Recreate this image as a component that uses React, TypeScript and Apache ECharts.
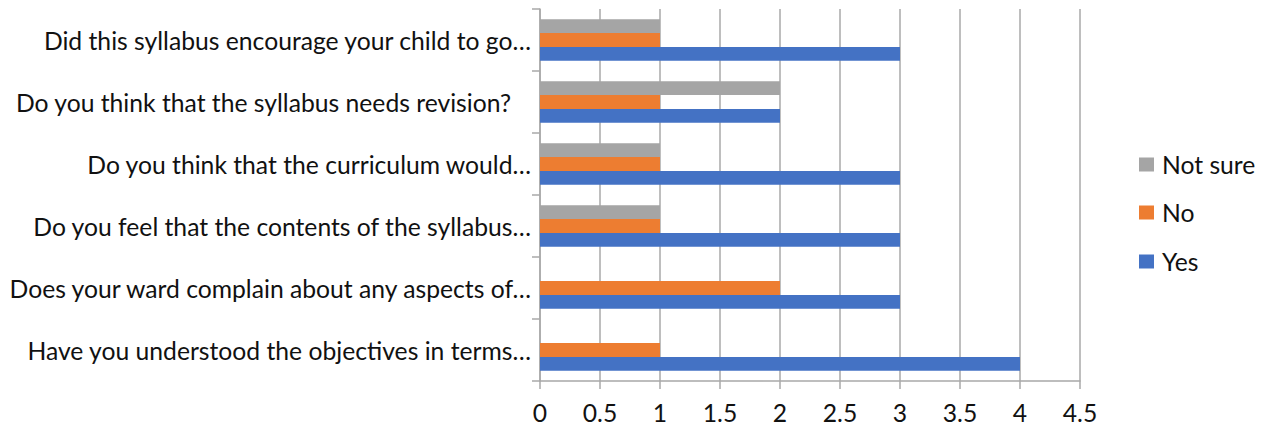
import React, { useEffect, useRef } from "react";
import * as echarts from "echarts";

const categories = [
  "Have you understood the objectives in terms…",
  "Does your ward complain about any aspects of…",
  "Do you feel that the contents of the syllabus…",
  "Do you think that the curriculum would…",
  "Do you think that the syllabus needs revision?",
  "Did this syllabus encourage your child to go…",
];
const yesValues = [4, 3, 3, 3, 2, 3];
const noValues = [1, 2, 1, 1, 1, 1];
const notSureValues = [null, null, 1, 1, 2, 1];
const seriesNames = ["Yes", "No", "Not sure"];
const colors = ["#4472C4", "#ED7D31", "#A5A5A5"];

const FONT = "Lato";
const FS = 24.7;
const TEXT = "#111111";
const GRID = "#A8A8A8";

export default function App() {
  const ref = useRef<HTMLDivElement>(null);
  useEffect(() => {
    if (!ref.current) return;
    const chart = echarts.init(ref.current, undefined, { renderer: "svg" });
    const legendItem = (name: string, color: string, centerY: number) => ({
      orient: "vertical",
      left: 1139,
      top: centerY - 13,
      padding: 0,
      itemWidth: 15,
      itemHeight: 14,
      itemGap: 0,
      icon: "rect",
      selectedMode: false,
      data: [{ name, itemStyle: { color } }],
      textStyle: { fontFamily: FONT, fontSize: FS, color: TEXT, padding: [0, 0, 0, 3] },
    });
    const barCommon = { type: "bar", barGap: "0%", barCategoryGap: "33%" };
    chart.setOption({
      animation: false,
      textStyle: { fontFamily: FONT },
      grid: { left: 540, top: 9, width: 540, height: 372, containLabel: false },
      legend: [
        legendItem(seriesNames[2], colors[2], 165),
        legendItem(seriesNames[1], colors[1], 213),
        legendItem(seriesNames[0], colors[0], 262),
      ],
      xAxis: {
        type: "value",
        min: 0,
        max: 4.5,
        interval: 0.5,
        axisLine: { show: true, lineStyle: { color: GRID, width: 1.5 } },
        axisTick: { show: true, length: 8, lineStyle: { color: GRID, width: 1.5 } },
        splitLine: { show: true, lineStyle: { color: GRID, width: 1.5 } },
        axisLabel: { fontFamily: FONT, fontSize: FS, color: TEXT, margin: 19 },
      },
      yAxis: {
        type: "category",
        data: categories,
        axisLine: { show: true, lineStyle: { color: GRID, width: 1.5 } },
        axisTick: { show: true, length: 8, lineStyle: { color: GRID, width: 1.5 } },
        splitLine: { show: false },
        axisLabel: {
          fontFamily: FONT,
          fontSize: FS,
          color: TEXT,
          margin: 9,
          formatter: (v: string) => (v.endsWith("?") ? `{pad|${v}}` : v),
          rich: {
            pad: { fontFamily: FONT, fontSize: FS, color: TEXT, padding: [0, 20, 0, 0] },
          },
        },
      },
      series: [
        { ...barCommon, name: seriesNames[2], data: notSureValues, itemStyle: { color: colors[2] } },
        { ...barCommon, name: seriesNames[1], data: noValues, itemStyle: { color: colors[1] } },
        { ...barCommon, name: seriesNames[0], data: yesValues, itemStyle: { color: colors[0] } },
      ],
    });
    return () => chart.dispose();
  }, []);
  return (
    <div
      ref={ref}
      style={{ position: "fixed", left: 0, top: 0, width: 1266, height: 428, background: "#fff" }}
    />
  );
}
